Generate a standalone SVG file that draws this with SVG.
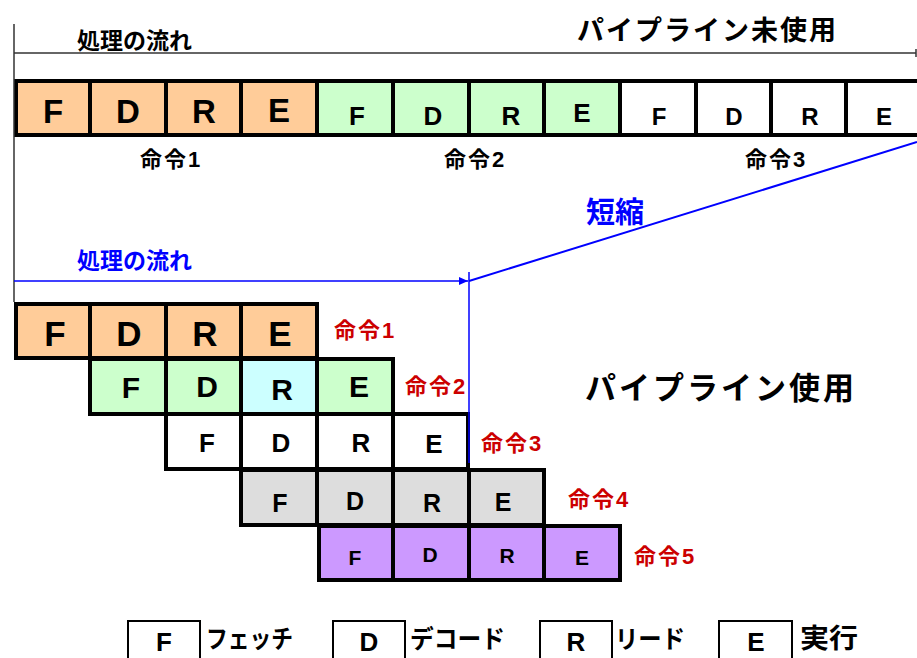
<svg xmlns="http://www.w3.org/2000/svg" width="917" height="658" viewBox="0 0 917 658">
<style>
  .cell { stroke: #000; stroke-width: 4; }
  .o { fill: #ffcc99; } .g { fill: #ccffcc; } .c { fill: #ccffff; } .w { fill: #ffffff; } .gy { fill: #dddddd; } .p { fill: #cc99ff; }
  text { font-family: "Liberation Sans", "Noto Sans CJK JP", sans-serif; font-weight: bold; }
  .L { text-anchor: middle; fill: #000; }
  .jp { fill: #000; }
  .red { fill: #cc0000; font-size: 22px; letter-spacing: 2px; }
  .blk { fill: #000; font-size: 22px; letter-spacing: 2px; }
  .blue { fill: #0000ff; }
  .leg { stroke: #000; stroke-width: 2; fill: #fff; }
</style>
<defs>
  <marker id="ah" markerWidth="10" markerHeight="10" refX="9" refY="4" orient="auto" markerUnits="userSpaceOnUse">
    <path d="M0,0 L9,4 L0,8 Z" fill="#0000ff"/>
  </marker>
</defs>
<rect width="917" height="658" fill="#fff"/>

<!-- headings -->
<text x="77" y="49" class="jp" font-size="23">処理の流れ</text>
<text x="577" y="40" class="jp" font-size="27" letter-spacing="2">パイプライン未使用</text>
<text x="585" y="399" class="jp" font-size="31" letter-spacing="3">パイプライン使用</text>
<text x="77" y="269" class="blue" font-size="23">処理の流れ</text>
<text x="586" y="223" class="blue" font-size="29">短縮</text>

<!-- top row: no pipeline -->
<g id="seq1">
  <rect class="cell o" x="16" y="81" width="74" height="54"/>
  <rect class="cell o" x="90" y="81" width="76" height="54"/>
  <rect class="cell o" x="166" y="81" width="75" height="54"/>
  <rect class="cell o" x="241" y="81" width="76" height="54"/>
  <text class="L" x="53" y="123" font-size="33">F</text>
  <text class="L" x="128" y="123" font-size="33">D</text>
  <text class="L" x="204" y="123" font-size="33">R</text>
  <text class="L" x="279" y="122" font-size="33">E</text>
  <text class="blk" x="140" y="167">命令1</text>
</g>
<g id="seq2">
  <rect class="cell g" x="317" y="81" width="76" height="54"/>
  <rect class="cell g" x="393" y="81" width="76" height="54"/>
  <rect class="cell g" x="469" y="81" width="75" height="54"/>
  <rect class="cell g" x="544" y="81" width="76" height="54"/>
  <text class="L" x="357" y="125" font-size="26">F</text>
  <text class="L" x="433" y="125" font-size="26">D</text>
  <text class="L" x="511" y="125" font-size="26">R</text>
  <text class="L" x="582" y="122" font-size="26">E</text>
  <text class="blk" x="444" y="167">命令2</text>
</g>
<g id="seq3">
  <rect class="cell w" x="620" y="81" width="76" height="54"/>
  <rect class="cell w" x="696" y="81" width="75" height="54"/>
  <rect class="cell w" x="771" y="81" width="75" height="54"/>
  <rect class="cell w" x="846" y="81" width="80" height="54"/>
  <text class="L" x="659" y="125" font-size="24">F</text>
  <text class="L" x="734" y="125" font-size="24">D</text>
  <text class="L" x="810" y="125" font-size="24">R</text>
  <text class="L" x="884" y="125" font-size="24">E</text>
  <text class="blk" x="745" y="167">命令3</text>
</g>

<!-- pipeline rows -->
<g id="p1">
  <rect class="cell o" x="16" y="304" width="74" height="54"/>
  <rect class="cell o" x="90" y="304" width="76" height="54"/>
  <rect class="cell o" x="166" y="304" width="75" height="54"/>
  <rect class="cell o" x="241" y="304" width="76" height="54"/>
  <text class="L" x="55" y="346" font-size="35">F</text>
  <text class="L" x="129" y="346" font-size="35">D</text>
  <text class="L" x="205" y="346" font-size="35">R</text>
  <text class="L" x="280" y="346" font-size="35">E</text>
  <text class="red" x="334" y="338">命令1</text>
</g>
<g id="p2">
  <rect class="cell g" x="90" y="359" width="76" height="55"/>
  <rect class="cell g" x="166" y="359" width="75" height="55"/>
  <rect class="cell c" x="241" y="359" width="76" height="55"/>
  <rect class="cell g" x="317" y="359" width="76" height="55"/>
  <text class="L" x="131" y="398" font-size="30">F</text>
  <text class="L" x="207" y="397" font-size="30">D</text>
  <text class="L" x="282" y="400" font-size="30">R</text>
  <text class="L" x="359" y="397" font-size="30">E</text>
  <text class="red" x="405" y="394">命令2</text>
</g>
<g id="p3">
  <rect class="cell w" x="166" y="414" width="75" height="55"/>
  <rect class="cell w" x="241" y="414" width="76" height="55"/>
  <rect class="cell w" x="317" y="414" width="76" height="55"/>
  <rect class="cell w" x="393" y="414" width="75" height="55"/>
  <text class="L" x="207" y="452" font-size="26">F</text>
  <text class="L" x="281" y="452" font-size="26">D</text>
  <text class="L" x="361" y="452" font-size="26">R</text>
  <text class="L" x="434" y="453" font-size="26">E</text>
  <text class="red" x="481" y="451">命令3</text>
</g>
<g id="p4">
  <rect class="cell gy" x="241" y="470" width="76" height="55"/>
  <rect class="cell gy" x="317" y="470" width="76" height="55"/>
  <rect class="cell gy" x="393" y="470" width="76" height="55"/>
  <rect class="cell gy" x="469" y="470" width="75" height="55"/>
  <text class="L" x="280" y="512" font-size="25">F</text>
  <text class="L" x="355" y="510" font-size="25">D</text>
  <text class="L" x="432" y="512" font-size="25">R</text>
  <text class="L" x="503" y="511" font-size="25">E</text>
  <text class="red" x="568" y="507">命令4</text>
</g>
<g id="p5">
  <rect class="cell p" x="319" y="526" width="74" height="54"/>
  <rect class="cell p" x="393" y="526" width="76" height="54"/>
  <rect class="cell p" x="469" y="526" width="75" height="54"/>
  <rect class="cell p" x="544" y="526" width="76" height="54"/>
  <text class="L" x="355" y="565" font-size="21">F</text>
  <text class="L" x="430" y="562" font-size="21">D</text>
  <text class="L" x="507" y="563" font-size="21">R</text>
  <text class="L" x="582" y="565" font-size="21">E</text>
  <text class="red" x="634" y="564">命令5</text>
</g>

<!-- connectors -->
<g id="connectors" fill="none">
  <line x1="14" y1="24" x2="14" y2="302" stroke="#333" stroke-width="1.5"/>
  <line x1="14" y1="53" x2="916" y2="53" stroke="#333" stroke-width="1.5"/>
  <line x1="916" y1="49" x2="916" y2="57" stroke="#333" stroke-width="1.5"/>
  <line x1="14" y1="281" x2="468" y2="281" stroke="#0000ff" stroke-width="1.5" marker-end="url(#ah)"/>
  <line x1="469" y1="272" x2="469" y2="463" stroke="#0000ff" stroke-width="1.5"/>
  <line x1="469" y1="281" x2="917" y2="142" stroke="#0000ff" stroke-width="2"/>
</g>

<!-- legend -->
<g id="legend-F">
  <rect class="leg" x="128" y="621" width="72" height="45"/>
  <text class="L" x="164" y="651" font-size="26">F</text>
  <text class="jp" x="206" y="648" font-size="25" textLength="87" lengthAdjust="spacingAndGlyphs">フェッチ</text>
</g>
<g id="legend-D">
  <rect class="leg" x="333" y="621" width="72" height="45"/>
  <text class="L" x="369" y="651" font-size="26">D</text>
  <text class="jp" x="410" y="648" font-size="25" textLength="95" lengthAdjust="spacingAndGlyphs">デコード</text>
</g>
<g id="legend-R">
  <rect class="leg" x="540" y="621" width="72" height="45"/>
  <text class="L" x="576" y="651" font-size="26">R</text>
  <text class="jp" x="615" y="648" font-size="25" textLength="70" lengthAdjust="spacingAndGlyphs">リード</text>
</g>
<g id="legend-E">
  <rect class="leg" x="719" y="621" width="73" height="45"/>
  <text class="L" x="756" y="651" font-size="26">E</text>
  <text class="jp" x="800" y="648" font-size="27" textLength="58" lengthAdjust="spacingAndGlyphs">実行</text>
</g>
</svg>
